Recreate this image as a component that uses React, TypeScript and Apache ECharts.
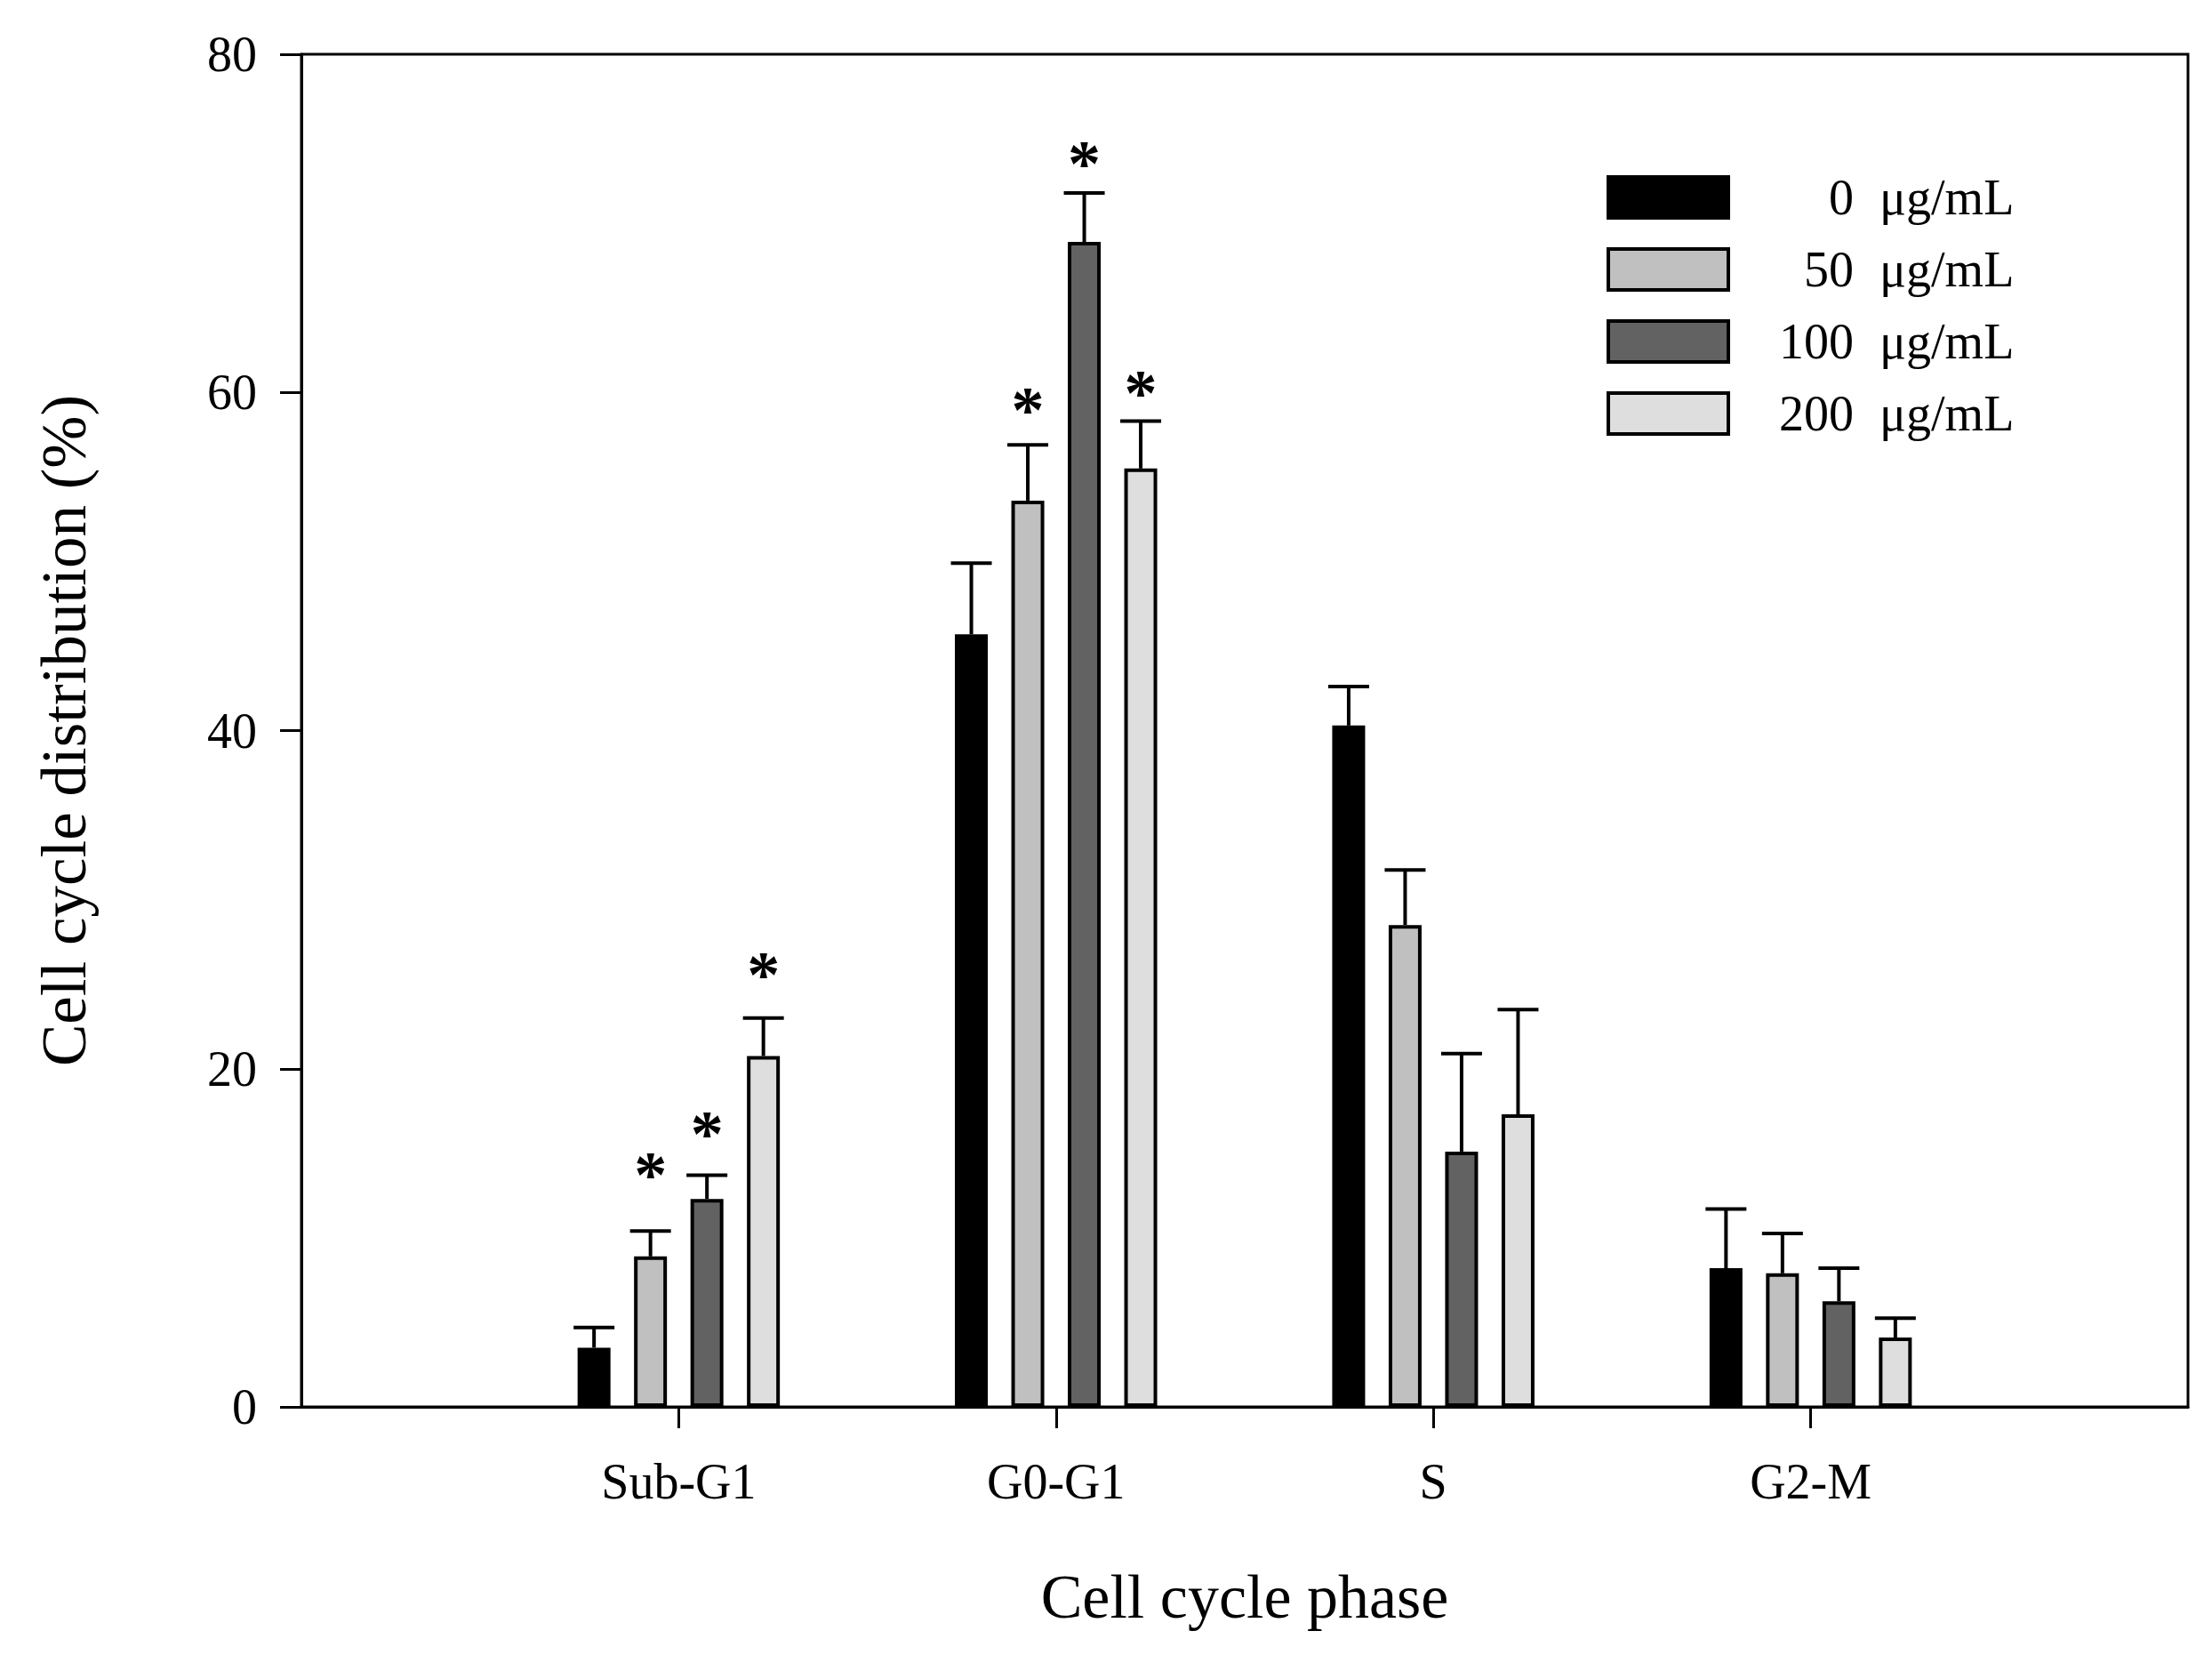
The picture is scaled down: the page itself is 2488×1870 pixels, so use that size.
import { useEffect, useRef } from "react";
import * as echarts from "echarts";

// cell cycle phases (empty slots at both ends keep the 1/5 spacing of the original)
const phases = ["", "Sub-G1", "G0-G1", "S", "G2-M", ""];
const doses = ["0  μg/mL", "50  μg/mL", "100  μg/mL", "200  μg/mL"];

// mean % per dose, one entry per phase (Sub-G1, G0-G1, S, G2-M)
const mean0 = [3.5, 45.7, 40.3, 8.2];
const mean50 = [8.9, 53.6, 28.5, 7.9];
const mean100 = [12.3, 68.9, 15.1, 6.25];
const mean200 = [20.75, 55.5, 17.3, 4.1];

// upper error (SD)
const err0 = [1.2, 4.2, 2.3, 3.5];
const err50 = [1.5, 3.3, 3.25, 2.35];
const err100 = [1.4, 2.9, 5.8, 1.95];
const err200 = [2.25, 2.8, 6.2, 1.15];

// where the significance asterisks sit (in % units), null = none
const star0 = [null, null, null, null];
const star50 = [14.0, 59.2, null, null];
const star100 = [16.4, 73.8, null, null];
const star200 = [25.8, 60.2, null, null];

const yTicks = [0, 20, 40, 60, 80];

const COLORS = ["#000000", "#c0c0c0", "#626262", "#dedede"];
const FONT = "'Liberation Serif', 'Times New Roman', serif";

const BAR_W = 37;
const BAR_STEP = 63.5;

export default function App() {
    const chartRef = useRef<HTMLDivElement | null>(null);

    useEffect(() => {
        if (!chartRef.current) return;
        const chart = echarts.init(chartRef.current, undefined, { renderer: "svg" });

        const means = [mean0, mean50, mean100, mean200];
        const errs = [err0, err50, err100, err200];
        const stars = [star0, star50, star100, star200];

        const barSeries = doses.map((name, i) => ({
            name,
            type: "bar" as const,
            barWidth: BAR_W,
            barGap: `${((BAR_STEP - BAR_W) / BAR_W) * 100}%`,
            itemStyle: { color: COLORS[i], borderColor: "#000", borderWidth: 4 },
            data: [null, ...means[i], null],
            z: 2,
        }));

        const errSeries = doses.map((name, i) => ({
            name: `${name} err`,
            type: "custom" as const,
            z: 3,
            data: means[i].map((m, k) => [k + 1, m, errs[i][k], stars[i][k] ?? -1]),
            renderItem: (params: any, api: any) => {
                const cat = api.value(0);
                const m = api.value(1);
                const e = api.value(2);
                const s = api.value(3);
                const base = api.coord([cat, m]);
                const top = api.coord([cat, m + e]);
                const x = base[0] + (i - 1.5) * BAR_STEP;
                const children: any[] = [
                    {
                        type: "line",
                        shape: { x1: x, y1: base[1], x2: x, y2: top[1] },
                        style: { stroke: "#000", lineWidth: 4 },
                    },
                    {
                        type: "line",
                        shape: { x1: x - 23, y1: top[1], x2: x + 23, y2: top[1] },
                        style: { stroke: "#000", lineWidth: 4 },
                    },
                ];
                if (s >= 0) {
                    const p = api.coord([cat, s]);
                    children.push({
                        type: "text",
                        x,
                        y: p[1] + 42,
                        style: {
                            text: "*",
                            fontFamily: FONT,
                            fontWeight: "bold",
                            fontSize: 74,
                            fill: "#000",
                            align: "center",
                            verticalAlign: "bottom",
                        },
                    });
                }
                return { type: "group", children };
            },
        }));

        chart.setOption({
            animation: false,
            backgroundColor: "#fff",
            textStyle: { fontFamily: FONT, color: "#000" },
            grid: {
                left: 331,
                top: 53,
                right: 19,
                bottom: 280,
                show: true,
                borderColor: "#000",
                borderWidth: 3,
                backgroundColor: "transparent",
            },
            legend: {
                data: doses,
                orient: "vertical",
                left: 1794,
                top: 181,
                itemWidth: 135,
                itemHeight: 46,
                itemGap: 25,
                icon: "rect",
                selectedMode: false,
                itemStyle: { borderColor: "#000", borderWidth: 4 },
                formatter: (name: string) => {
                    const [n, u] = name.split(/\s+/);
                    return `{n|${n}}{u|${u}}`;
                },
                textStyle: {
                    fontFamily: FONT,
                    fontSize: 56,
                    lineHeight: 46,
                    color: "#000",
                    rich: {
                        n: { width: 136, align: "right", fontFamily: FONT, fontSize: 56, lineHeight: 46 },
                        u: { align: "right", padding: [0, 0, 0, 29], fontFamily: FONT, fontSize: 56, lineHeight: 46 },
                    },
                },
            },
            xAxis: {
                type: "category",
                data: phases,
                boundaryGap: false,
                name: "Cell cycle phase",
                nameLocation: "middle",
                nameGap: 178,
                nameTextStyle: { fontFamily: FONT, fontSize: 70, color: "#000" },
                axisLine: { lineStyle: { color: "#000", width: 3 } },
                axisTick: {
                    length: 24,
                    lineStyle: { color: "#000", width: 3 },
                    interval: (index: number) => index > 0 && index < phases.length - 1,
                },
                axisLabel: {
                    interval: 0,
                    margin: 56,
                    fontFamily: FONT,
                    fontSize: 56,
                    color: "#000",
                },
                splitLine: { show: false },
            },
            yAxis: {
                type: "value",
                min: yTicks[0],
                max: yTicks[yTicks.length - 1],
                interval: yTicks[1] - yTicks[0],
                name: "Cell cycle distribution (%)",
                nameLocation: "middle",
                nameGap: 232,
                nameTextStyle: { fontFamily: FONT, fontSize: 71, color: "#000" },
                axisLine: { show: true, lineStyle: { color: "#000", width: 3 } },
                axisTick: { show: true, length: 24, lineStyle: { color: "#000", width: 3 } },
                axisLabel: { margin: 50, fontFamily: FONT, fontSize: 56, color: "#000" },
                splitLine: { show: false },
            },
            series: [...barSeries, ...errSeries],
        });

        return () => {
            chart.dispose();
        };
    }, []);

    return <div ref={chartRef} style={{ width: 2472, height: 1854 }} />;
}
